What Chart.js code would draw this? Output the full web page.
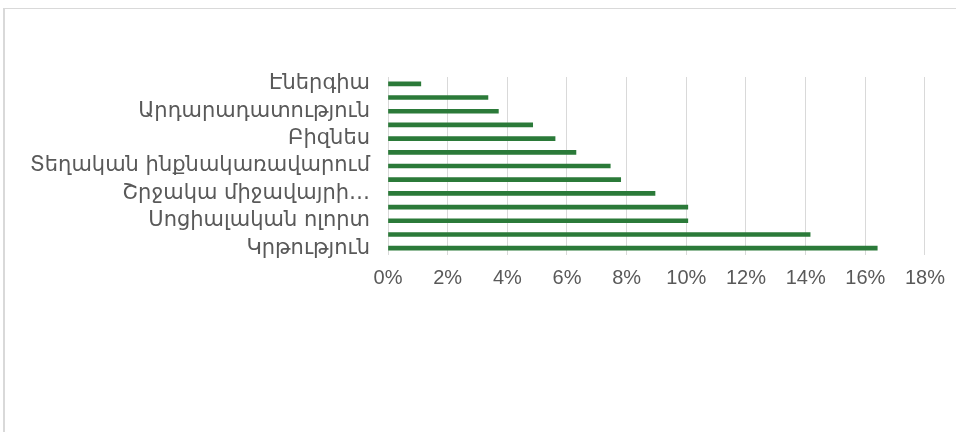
<!DOCTYPE html>
<html>
<head>
<meta charset="utf-8">
<script src="https://cdn.jsdelivr.net/npm/chart.js@4/dist/chart.umd.min.js"></script>
<style>
  html, body { margin: 0; padding: 0; background: #fff; overflow: hidden; }
  #frame { position: absolute; left: 3px; top: 8px; width: 1000px; height: 500px;
           border-top: 1px solid #d9d9d9; border-left: 2px solid #d9d9d9; }
  #wrap { position: absolute; left: 0; top: 0; width: 956px; height: 432px; }
</style>
</head>
<body>
<div id="frame"></div>
<div id="wrap"><canvas id="chart" width="956" height="432"></canvas></div>
<script>
// categories, top to bottom (every other one gets a visible label)
const sectors = [
  "Էներգիա",
  "Գյուղատնտեսություն",
  "Արդարադատություն",
  "Տրանսպորտ",
  "Բիզնես",
  "Մշակույթ",
  "Տեղական ինքնակառավարում",
  "Մարդու իրավունքներ",
  "Շրջակա միջավայրի…",
  "Առողջապահություն",
  "Սոցիալական ոլորտ",
  "Երիտասարդություն",
  "Կրթություն"
];
// share of projects, %
const shares = [1.1, 3.35, 3.7, 4.85, 5.6, 6.3, 7.45, 7.8, 8.95, 10.05, 10.05, 14.15, 16.4];

const xTicks = [0, 2, 4, 6, 8, 10, 12, 14, 16, 18];

const textGrey = "#595959";
const gridGrey = "#d9d9d9";

const ctx = document.getElementById("chart").getContext("2d");
const chart = new Chart(ctx, {
    type: "bar",
    data: {
        labels: sectors,
        datasets: [
            { label: "Share", data: shares, backgroundColor: "#2b7a39", barThickness: 4 }
        ]
    },
    options: {
        indexAxis: "y",
        responsive: false,
        animation: false,
        layout: { padding: { top: 77, left: 0, right: 30, bottom: 0 } },
        plugins: { legend: { display: false }, tooltip: { enabled: false } },
        scales: {
            x: {
                min: 0, max: 18,
                afterBuildTicks: axis => { axis.ticks = xTicks.map(v => ({ value: v })); },
                afterFit: axis => { axis.height = 177; },
                grid: { color: gridGrey, drawTicks: false },
                border: { display: false },
                ticks: {
                    padding: 11,
                    color: textGrey,
                    font: { family: "'Liberation Sans', Arial, sans-serif", size: 20 },
                    callback: value => value + "%"
                }
            },
            y: {
                afterFit: axis => { axis.width = 388; },
                grid: { display: false, drawTicks: false },
                border: { display: false },
                ticks: {
                    autoSkip: false,
                    padding: 18,
                    color: textGrey,
                    font: { family: "'DejaVu Sans', 'Noto Sans', sans-serif", size: 21 },
                    callback: (value, index) => index % 2 === 0 ? sectors[index] : ""
                }
            }
        }
    }
});
</script>
</body>
</html>
